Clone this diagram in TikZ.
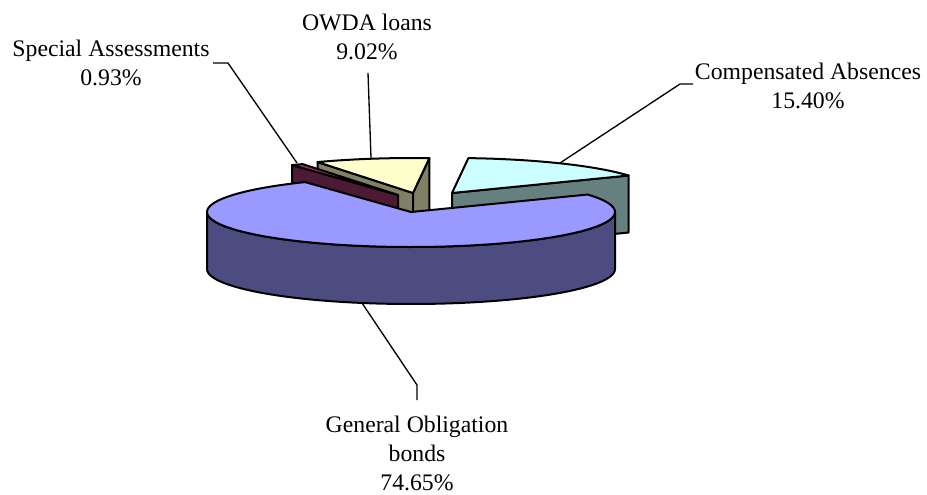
\documentclass[tikz,border=0pt]{standalone}
\usepackage{fontspec}
\setmainfont{Liberation Serif}
\usepackage{tikz}

\definecolor{gotop}{HTML}{9999FF}
\definecolor{goside}{HTML}{4C4C80}
\definecolor{cmptop}{HTML}{CCFFFF}
\definecolor{cmpside}{HTML}{668080}
\definecolor{owdtop}{HTML}{FFFFCC}
\definecolor{owdside}{HTML}{808066}
\definecolor{spctop}{HTML}{993366}
\definecolor{spcside}{HTML}{4D1A33}

\begin{document}
\begin{tikzpicture}[x=0.75pt,y=-0.75pt,
  lbl/.style={align=center,inner sep=0pt,font=\fontsize{17.8}{21.75}\selectfont},
  face/.style={draw=black,line width=1.5pt,line join=round},
  lead/.style={draw=black,line width=1pt,line join=round}]

  \def\rx{204}
  \def\ry{35}
  \def\dep{57}

  \useasboundingbox (0,0) rectangle (927,494);

  % compensated absences (exploded, back right)
  \begin{scope}[shift={(452,193)}]
    \filldraw[fill=cmpside,face] (0,0) -- ({\rx*cos(30)},{-\ry*sin(30)})
      -- ++(0,\dep) -- (0,\dep) -- cycle;
    \filldraw[fill=cmptop,face] (0,0) -- plot[domain=30:85.4,samples=30,variable=\t]
      ({\rx*cos(\t)},{-\ry*sin(\t)}) -- cycle;
  \end{scope}

  % owda loans
  \begin{scope}[shift={(413,193)}]
    \filldraw[fill=owdside,face] (0,0) -- ({\rx*cos(117.9)},{-\ry*sin(117.9)})
      -- ++(0,\dep) -- (0,\dep) -- cycle;
    \filldraw[fill=owdside,face] (0,0) -- ({\rx*cos(85.4)},{-\ry*sin(85.4)})
      -- ++(0,\dep) -- (0,\dep) -- cycle;
    \filldraw[fill=owdtop,face] (0,0) -- plot[domain=85.4:117.9,samples=20,variable=\t]
      ({\rx*cos(\t)},{-\ry*sin(\t)}) -- cycle;
  \end{scope}

  % special assessments
  \begin{scope}[shift={(398,195)}]
    \filldraw[fill=spcside,face] (0,0) -- ({\rx*cos(121.3)},{-\ry*sin(121.3)})
      -- ++(0,\dep) -- (0,\dep) -- cycle;
    \filldraw[fill=spctop,face] (0,0) -- plot[domain=117.9:121.3,samples=5,variable=\t]
      ({\rx*cos(\t)},{-\ry*sin(\t)}) -- cycle;
  \end{scope}

  % general obligation bonds (front)
  \begin{scope}[shift={(411,212)}]
    \filldraw[fill=goside,face] plot[domain=180:360,samples=60,variable=\t]
      ({\rx*cos(\t)},{-\ry*sin(\t)})
      -- plot[domain=360:180,samples=60,variable=\t]
      ({\rx*cos(\t)},{\dep-\ry*sin(\t)}) -- cycle;
    \filldraw[fill=gotop,face] (0,0) -- plot[domain=121.3:390,samples=90,variable=\t]
      ({\rx*cos(\t)},{-\ry*sin(\t)}) -- cycle;
  \end{scope}

  % labels
  \node[lbl] (spec) at (111,63) {Special Assessments\\0.93\%};
  \node[lbl] (owda) at (367,37) {OWDA loans\\9.02\%};
  \node[lbl] (comp) at (808,86) {Compensated Absences\\15.40\%};
  \node[lbl] (gob) at (417,453) {General Obligation\\bonds\\74.65\%};

  % leader lines
  \coordinate (specA) at (213,63);
  \coordinate (specB) at (297,163);
  \coordinate (owdaA) at (368,73);
  \coordinate (owdaB) at (371,158);
  \coordinate (compA) at (693,84);
  \coordinate (compB) at (560,163);
  \coordinate (gobA) at (417,400);
  \coordinate (gobB) at (362,303);

  \draw[lead] (specA) -- ++(15,0) -- (specB);
  \draw[lead] (owdaA) -- (owdaB);
  \draw[lead] (compA) -- ++(-13,0) -- (compB);
  \draw[lead] (gobA) -- ++(0,-15) -- (gobB);

\end{tikzpicture}
\end{document}
